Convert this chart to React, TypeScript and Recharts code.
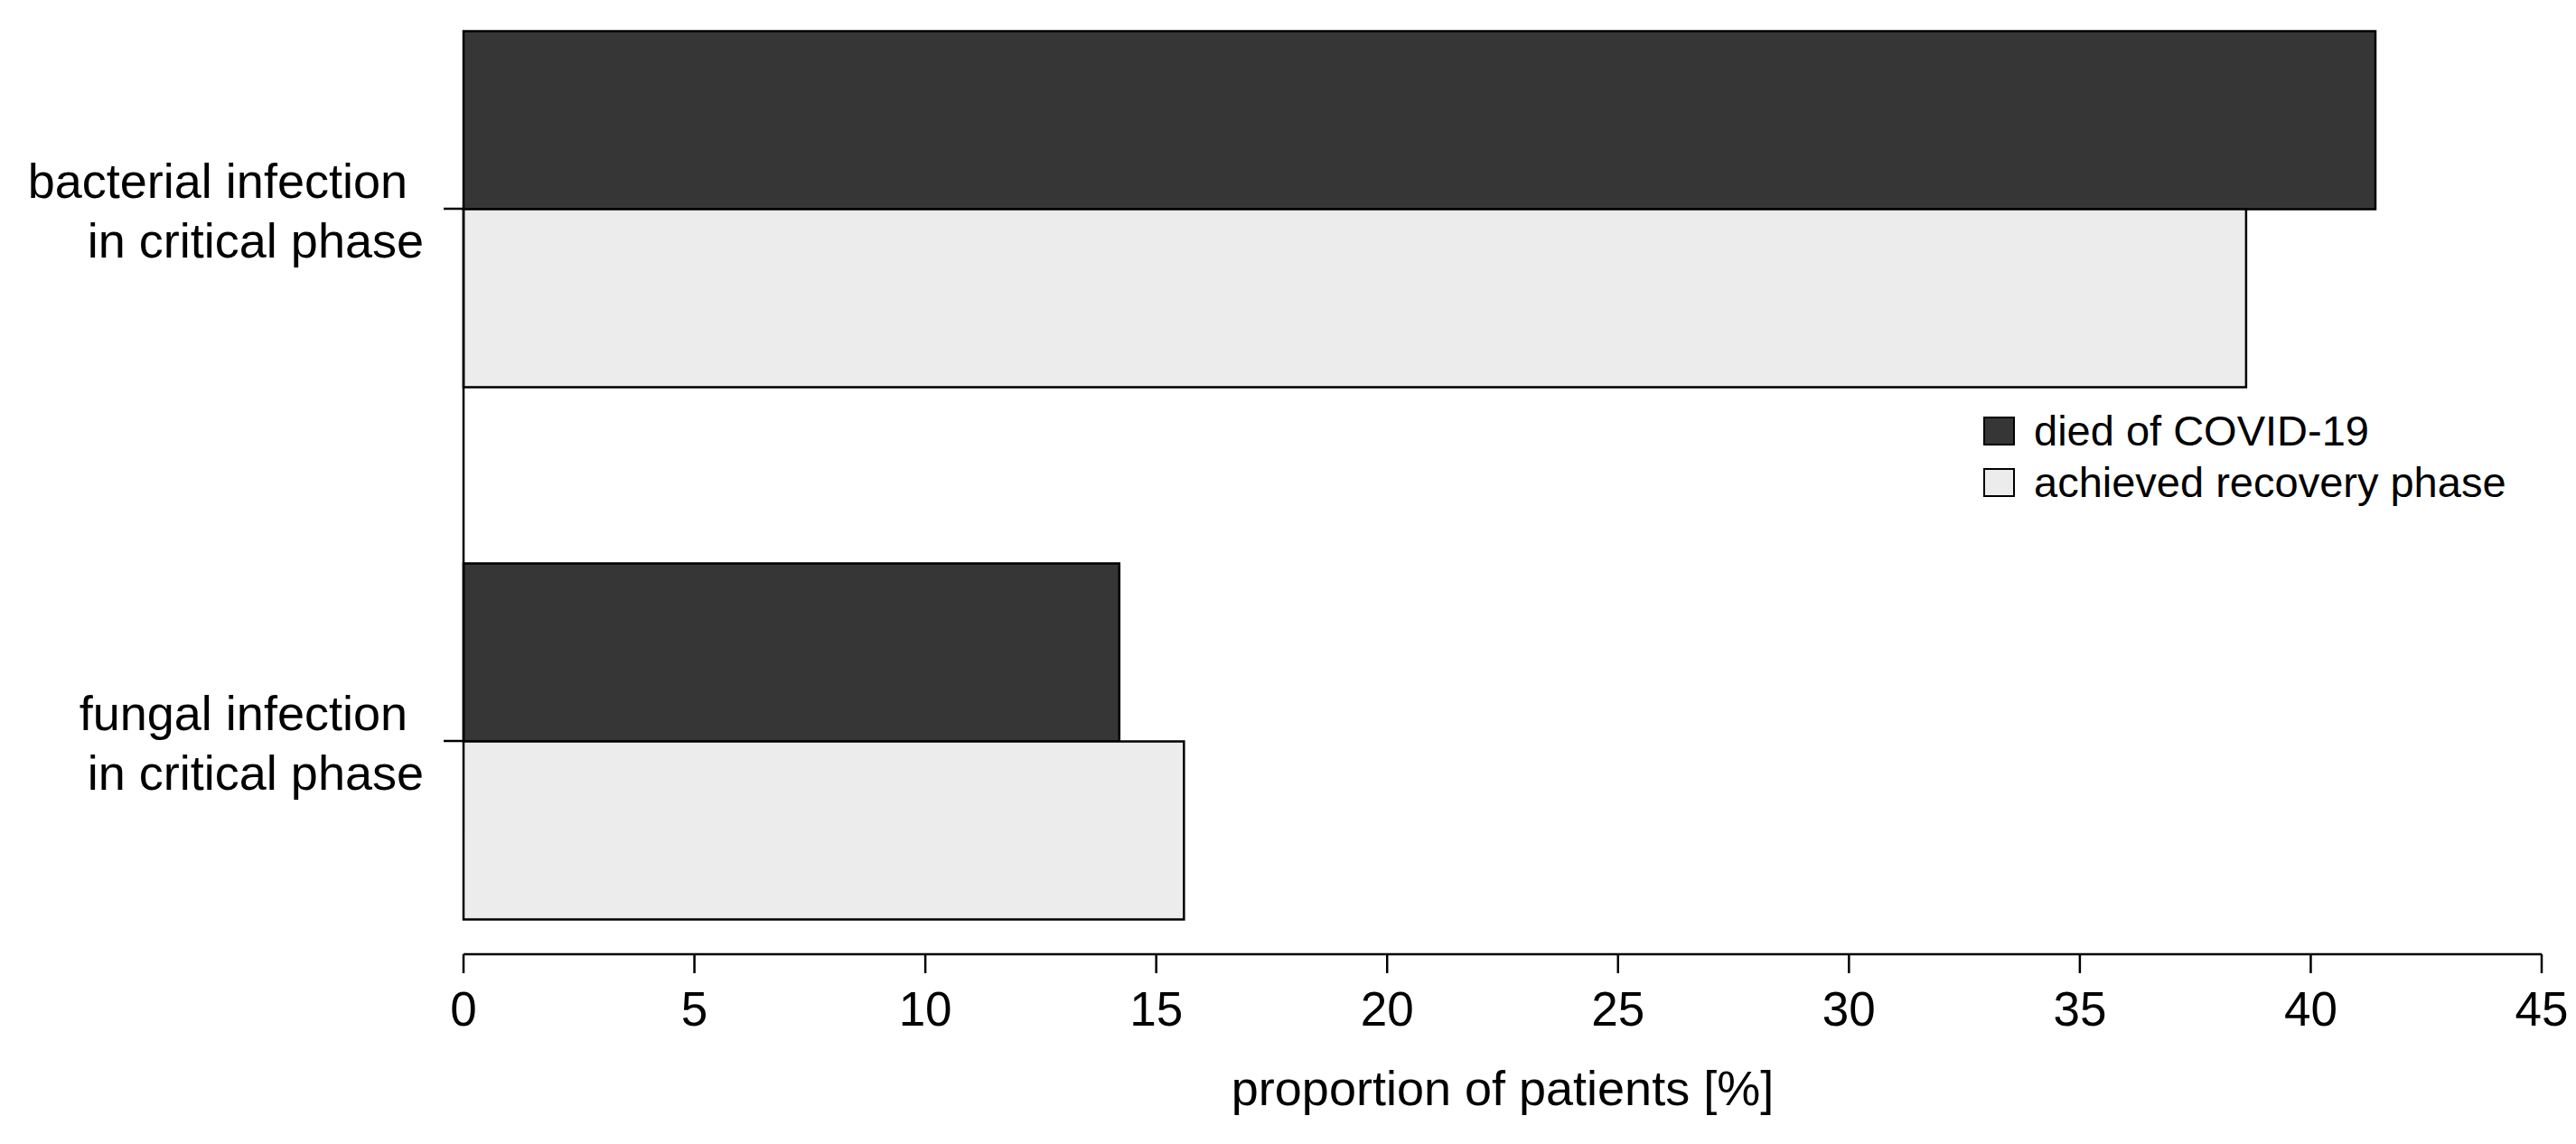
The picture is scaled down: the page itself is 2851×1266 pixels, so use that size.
import React from 'react';
import { BarChart, Bar, XAxis, YAxis, Legend, ReferenceLine } from 'recharts';

// ---- data ----
const categories: string[] = [
  'bacterial infection\nin critical phase',
  'fungal infection\nin critical phase',
];
const diedOfCovid: number[] = [41.4, 14.2];
const achievedRecovery: number[] = [38.6, 15.6];
const xTicks: number[] = [0, 5, 10, 15, 20, 25, 30, 35, 40, 45];
const seriesNames: string[] = ['died of COVID-19', 'achieved recovery phase'];
const axisTitle = 'proportion of patients [%]';

const data = categories.map((c, i) => ({
  category: c,
  died: diedOfCovid[i],
  recovered: achievedRecovery[i],
}));

const FONT = '"Liberation Sans", Arial, sans-serif';
const COLORS: Record<string, string> = { died: '#363636', recovered: '#ececec' };

function CategoryTick(props: any) {
  const { x, y, payload } = props;
  const lines = String(payload.value).split('\n');
  return (
    <g>
      <text x={x - 18} y={y - 12.5} textAnchor="end" fontSize={54} fill="#000" fontFamily={FONT}>
        {lines[0]}
      </text>
      <text x={x} y={y + 53.5} textAnchor="end" fontSize={54} fill="#000" fontFamily={FONT}>
        {lines[1]}
      </text>
    </g>
  );
}

function LegendContent(props: any) {
  const payload = [...(props.payload || [])].sort(
    (a: any, b: any) => seriesNames.indexOf(a.value) - seriesNames.indexOf(b.value)
  );
  return (
    <div style={{ fontFamily: FONT, fontSize: 47, color: '#000' }}>
      {payload.map((entry: any, i: number) => (
        <div key={i} style={{ position: 'relative', height: 57, lineHeight: '57px', whiteSpace: 'nowrap' }}>
          <div
            style={{
              position: 'absolute',
              left: 0,
              top: 13,
              width: 35,
              height: 32,
              boxSizing: 'border-box',
              border: '2.5px solid #000',
              background: COLORS[entry.dataKey] ?? entry.color,
            }}
          />
          <span style={{ marginLeft: 56 }}>{entry.value}</span>
        </div>
      ))}
    </div>
  );
}

export default function App() {
  return (
    <div style={{ position: 'absolute', left: 0, top: 0, background: '#fff' }}>
      <BarChart
        width={2851}
        height={1266}
        data={data}
        layout="vertical"
        margin={{ top: 0, right: 38, bottom: 0, left: 0 }}
        barGap={0}
        style={{ fontFamily: FONT }}
      >
        <XAxis
          type="number"
          domain={[0, 45]}
          ticks={xTicks}
          interval={0}
          height={210}
          tickSize={21}
          tickMargin={20}
          axisLine={{ stroke: '#000', strokeWidth: 2.5 }}
          tickLine={{ stroke: '#000', strokeWidth: 2.5 }}
          tick={{ fill: '#000', fontSize: 53, fontFamily: FONT }}
          label={{
            content: (p: any) => {
              const vb = p.viewBox || {};
              return (
                <text
                  x={vb.x + vb.width / 2}
                  y={vb.y + 167}
                  textAnchor="middle"
                  fontSize={54}
                  fill="#000"
                  fontFamily={FONT}
                >
                  {axisTitle}
                </text>
              );
            },
          }}
        />
        <YAxis
          type="category"
          dataKey="category"
          width={513}
          interval={0}
          tickSize={22}
          tickMargin={22}
          axisLine={false}
          tickLine={{ stroke: '#000', strokeWidth: 2.5 }}
          tick={<CategoryTick />}
          padding={{ top: -63.5, bottom: -58.5 }}
        />
        <Legend
          layout="horizontal"
          align="center"
          verticalAlign="middle"
          content={<LegendContent />}
          wrapperStyle={{ left: 2195, top: 448, width: 'auto', height: 'auto' }}
        />
        <Bar
          dataKey="died"
          name={seriesNames[0]}
          fill={COLORS.died}
          stroke="#000"
          strokeWidth={2.5}
          barSize={197}
          isAnimationActive={false}
        />
        <Bar
          dataKey="recovered"
          name={seriesNames[1]}
          fill={COLORS.recovered}
          stroke="#000"
          strokeWidth={2.5}
          barSize={197}
          isAnimationActive={false}
        />
        <ReferenceLine
          segment={[
            { x: 0, y: categories[0] },
            { x: 0, y: categories[1] },
          ]}
          stroke="#000"
          strokeWidth={2.5}
          ifOverflow="visible"
        />
      </BarChart>
    </div>
  );
}
